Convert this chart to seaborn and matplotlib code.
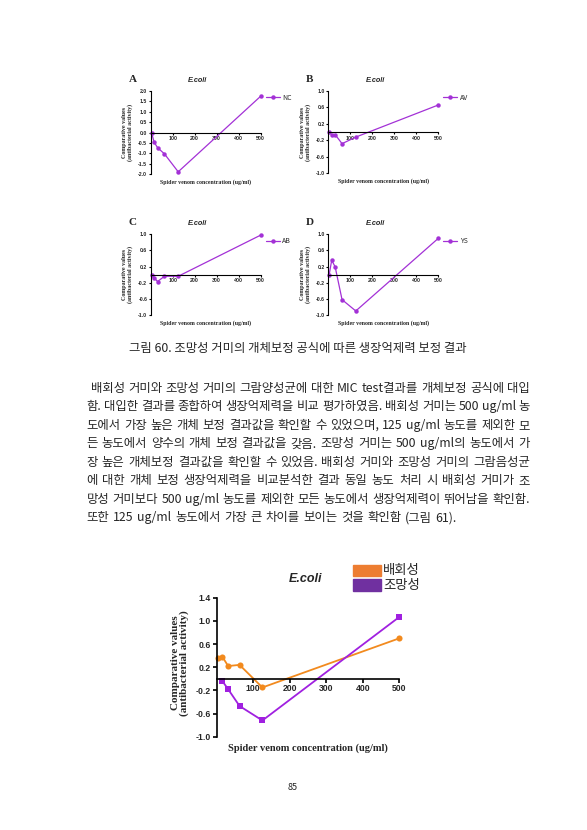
import numpy as np
import pandas as pd
import seaborn as sns
import matplotlib.pyplot as plt
from matplotlib.ticker import FormatStrFormatter
from matplotlib.patches import Rectangle

# concentrations (ug/ml)
conc = [3.9, 15.6, 31.25, 62.5, 125, 500]

# panel values (E.coli)
nc_vals = [0.0, -0.46, -0.72, -1.02, -1.88, 1.75]
av_vals = [0.0, -0.06, -0.06, -0.28, -0.12, 0.66]
ab_vals = [0.0, -0.08, -0.17, -0.04, -0.04, 0.98]
ys_vals = [0.0, 0.36, 0.19, -0.62, -0.90, 0.90]

# bottom chart
bh_conc = [3.9, 15.6, 31.25, 62.5, 125, 500]
bh_vals = [0.36, 0.38, 0.22, 0.24, -0.15, 0.70]   # 배회성
jm_conc = [15.6, 31.25, 62.5, 125, 500]
jm_vals = [-0.04, -0.18, -0.47, -0.72, 1.07]      # 조망성

caption = "그림 60. 조망성 거미의 개체보정 공식에 따른 생장억제력 보정 결과"
body = [
    "배회성 거미와 조망성 거미의 그람양성균에 대한 MIC test결과를 개체보정 공식에 대입",
    "함. 대입한 결과를 종합하여 생장억제력을 비교 평가하였음. 배회성 거미는 500 ug/ml 농",
    "도에서 가장 높은 개체 보정 결과값을 확인할 수 있었으며, 125 ug/ml 농도를 제외한 모",
    "든 농도에서 양수의 개체 보정 결과값을 갖음. 조망성 거미는 500 ug/ml의 농도에서 가",
    "장 높은 개체보정 결과값을 확인할 수 있었음. 배회성 거미와 조망성 거미의 그람음성균",
    "에 대한 개체 보정 생장억제력을 비교분석한 결과 동일 농도 처리 시 배회성 거미가 조",
    "망성 거미보다 500 ug/ml 농도를 제외한 모든 농도에서 생장억제력이 뛰어남을 확인함.",
    "또한 125 ug/ml 농도에서 가장 큰 차이를 보이는 것을 확인함 (그림 61).",
]

sns.set_style("white")
plt.rcParams['font.family'] = ['Noto Sans CJK KR', 'DejaVu Sans']
plt.rcParams['axes.unicode_minus'] = False

W, H = 587, 830
fig = plt.figure(figsize=(W / 100, H / 100), dpi=100)

PURPLE = '#A331D6'
SERIF = 'Liberation Serif'
SANS = 'Liberation Sans'
TXT = 8.9


def add_ax(left, right, top, bottom):
    return fig.add_axes([left / W, 1 - bottom / H, (right - left) / W, (bottom - top) / H])


def style_axis(ax, ylim, yticks, lw, fs, tl):
    ax.set_xlim(0, 500)
    ax.set_ylim(*ylim)
    ax.set_yticks(yticks)
    ax.set_xticks([100, 200, 300, 400, 500])
    ax.yaxis.set_major_formatter(FormatStrFormatter('%.1f'))
    for s in ['top', 'right']:
        ax.spines[s].set_visible(False)
    ax.spines['bottom'].set_position(('data', 0))
    for s in ['left', 'bottom']:
        ax.spines[s].set_color('black')
        ax.spines[s].set_linewidth(lw)
    ax.tick_params(direction='out', length=tl, width=lw, color='black', pad=1,
                   labelsize=fs, left=True, bottom=True)
    for lab in ax.get_xticklabels() + ax.get_yticklabels():
        lab.set_fontfamily(SANS)
        lab.set_fontweight('bold')
    ax.set_xlabel('')
    ax.set_ylabel('')
    ax.grid(False)


# ---- four small panels ----
panels = [
    ('A', 'NC', nc_vals, (150.7, 260.7, 91, 174.3), (-2, 2), np.arange(-2, 2.01, 0.5)),
    ('B', 'AV', av_vals, (328.3, 438.3, 91, 173.3), (-1, 1), [-1, -0.6, -0.2, 0.2, 0.6, 1.0]),
    ('C', 'AB', ab_vals, (150.7, 260.7, 234.3, 315), (-1, 1), [-1, -0.6, -0.2, 0.2, 0.6, 1.0]),
    ('D', 'YS', ys_vals, (328.3, 438.3, 234.3, 315), (-1, 1), [-1, -0.6, -0.2, 0.2, 0.6, 1.0]),
]

for letter, name, vals, box, ylim, yt in panels:
    ax = add_ax(*box)
    df = pd.DataFrame({'conc': conc, 'val': vals})
    sns.lineplot(data=df, x='conc', y='val', ax=ax, color=PURPLE, marker='o',
                 markersize=3.2, markeredgewidth=0, linewidth=0.9, label=name, clip_on=False)
    style_axis(ax, ylim, yt, 0.8, 3.7, 1.5)
    ax.legend(loc='upper left', bbox_to_anchor=(1.02, 1.0), frameon=False,
              fontsize=5, handlelength=2.0, handletextpad=0.4, borderaxespad=0)
    left, right, top, bottom = box
    fig.text((left - 22) / W, 1 - (top - 12) / H, letter, fontfamily=SERIF,
             fontweight='bold', fontsize=8, ha='left', va='center')
    fig.text((left + right) / 2 / W - 8 / W, 1 - (top - 11) / H, 'E.coli', fontfamily=SANS,
             fontweight='bold', fontstyle='italic', fontsize=5.2, ha='center', va='center')
    fig.text((left + right) / 2 / W, 1 - (bottom + 8) / H,
             'Spider venom concentration (ug/ml)', fontfamily=SERIF, fontweight='bold',
             fontsize=4.2, ha='center', va='center')
    fig.text((left - 23) / W, 1 - ((top + bottom) / 2) / H,
             'Comparative values\n(antibacterial activity)', fontfamily=SERIF,
             fontweight='bold', fontsize=4.3, ha='center', va='center', rotation=90,
             linespacing=1.0)

# ---- caption ----
fig.text(298 / W, 1 - 348 / H, caption, fontsize=TXT, ha='center', va='center')

# ---- justified body text ----
renderer = fig.canvas.get_renderer()
x0, x1 = 86.7, 530.0
for i, line in enumerate(body):
    y = 1 - (388.3 + 18.5 * i) / H
    words = line.split(' ')
    start = x0 + (4 if i == 0 else 0)
    texts = [fig.text(0, y, w, fontsize=TXT, ha='left', va='center') for w in words]
    widths = [t.get_window_extent(renderer).width for t in texts]
    if i < len(body) - 1:
        gap = (x1 - start - sum(widths)) / (len(words) - 1)
    else:
        gap = 3.6
    x = start
    for t, w in zip(texts, widths):
        t.set_x(x / W)
        x += w + gap

# ---- bottom chart ----
ax = add_ax(216.7, 399.5, 597.7, 736.7)
df_b = pd.DataFrame({'conc': bh_conc, 'val': bh_vals})
df_j = pd.DataFrame({'conc': jm_conc, 'val': jm_vals})
sns.lineplot(data=df_b, x='conc', y='val', ax=ax, color='#F28A1E', marker='o',
             markersize=4.4, markeredgewidth=0, linewidth=1.3, clip_on=False)
sns.lineplot(data=df_j, x='conc', y='val', ax=ax, color='#A020E0', marker='s',
             markersize=4.2, markeredgewidth=0, linewidth=1.3, clip_on=False)
style_axis(ax, (-1.0, 1.4), [-1.0, -0.6, -0.2, 0.2, 0.6, 1.0, 1.4], 1.2, 6.2, 3)
if ax.get_legend():
    ax.get_legend().remove()

fig.text(306 / W, 1 - 578.5 / H, 'E.coli', fontfamily=SANS, fontweight='bold',
         fontstyle='italic', fontsize=9, ha='center', va='center')
fig.text(308 / W, 1 - 748 / H, 'Spider venom concentration (ug/ml)', fontfamily=SERIF,
         fontweight='bold', fontsize=7.5, ha='center', va='center')
fig.text(180 / W, 1 - 663 / H, 'Comparative values\n(antibacterial activity)',
         fontfamily=SERIF, fontweight='bold', fontsize=8.0, ha='center', va='center',
         rotation=90, linespacing=1.0)

# legend boxes (drawn as in the source figure)
fig.patches.append(Rectangle((352.7 / W, 1 - 576 / H), 28 / W, 11.5 / H, color='#ED7D31',
                             transform=fig.transFigure, figure=fig))
fig.patches.append(Rectangle((352.7 / W, 1 - 591 / H), 28 / W, 12 / H, color='#7030A0',
                             transform=fig.transFigure, figure=fig))
fig.text(383 / W, 1 - 570 / H, '배회성', fontsize=9.6, ha='left', va='center')
fig.text(383 / W, 1 - 585 / H, '조망성', fontsize=9.6, ha='left', va='center')

# page number
fig.text(293 / W, 1 - 787 / H, '85', fontsize=6.5, ha='center', va='center')

plt.savefig('out.png', dpi=100)
